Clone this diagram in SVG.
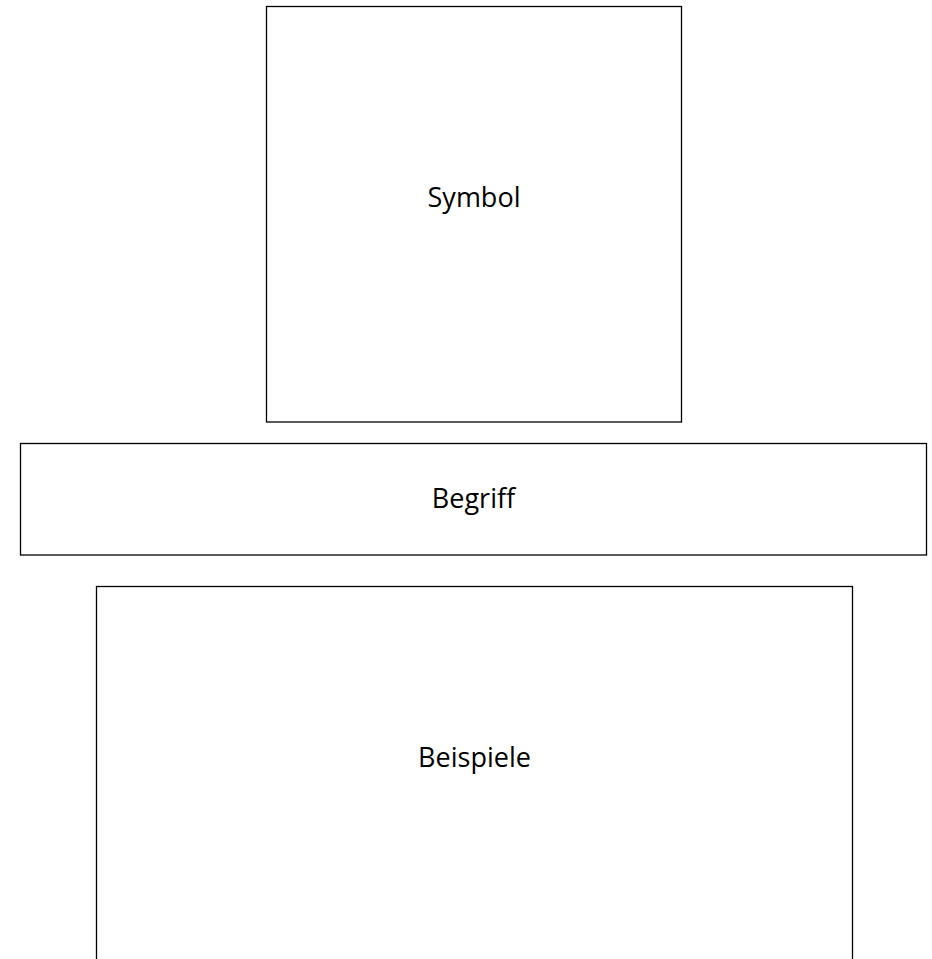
<svg xmlns="http://www.w3.org/2000/svg" width="932" height="959" viewBox="0 0 932 959">
<style>
.box{fill:#ffffff;stroke:#000000;stroke-width:1.3}
.lbl{font-family:"Open Sans","Noto Sans",sans-serif;font-size:27px;fill:#000000;text-anchor:middle}
</style>
<rect width="932" height="959" fill="#ffffff"/>
<g id="connectors"></g>
<g id="symbol">
<rect class="box" x="266.5" y="6.5" width="415" height="415.5"/>
<text class="lbl" x="474" y="206.5">Symbol</text>
</g>
<g id="begriff">
<rect class="box" x="20.5" y="443.5" width="906" height="111.5"/>
<text class="lbl" x="473.5" y="508">Begriff</text>
</g>
<g id="beispiele">
<rect class="box" x="96.5" y="586.5" width="756" height="400"/>
<text class="lbl" x="474.5" y="767">Beispiele</text>
</g>
</svg>
